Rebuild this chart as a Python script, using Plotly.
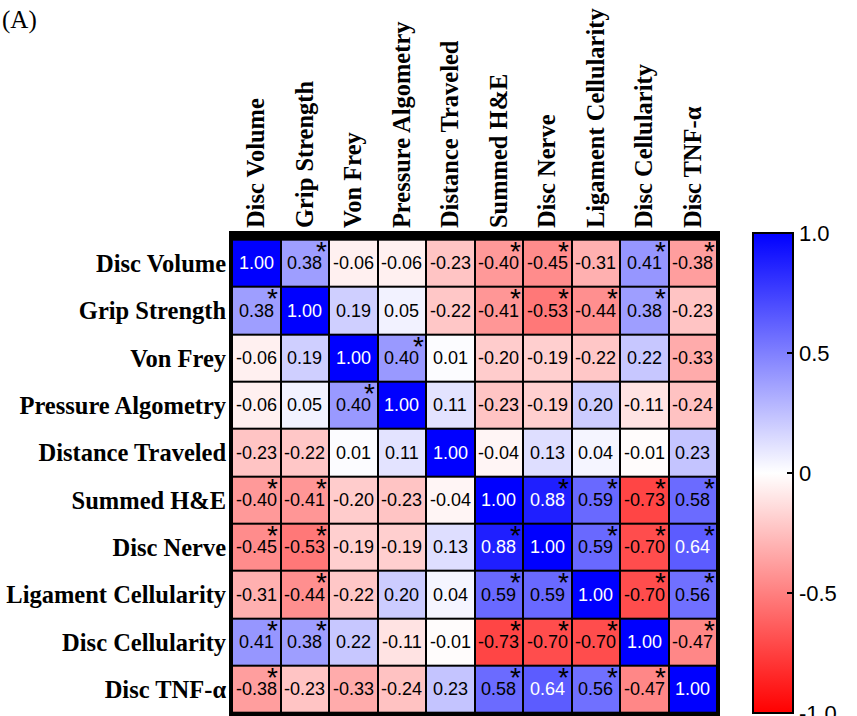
import plotly.graph_objects as go

# Correlation matrix (Pearson r) between outcome measures
labels = [
    "Disc Volume", "Grip Strength", "Von Frey", "Pressure Algometry",
    "Distance Traveled", "Summed H&E", "Disc Nerve", "Ligament Cellularity",
    "Disc Cellularity", "Disc TNF-α",
]

r_values = [
    [1.00, 0.38, -0.06, -0.06, -0.23, -0.40, -0.45, -0.31, 0.41, -0.38],
    [0.38, 1.00, 0.19, 0.05, -0.22, -0.41, -0.53, -0.44, 0.38, -0.23],
    [-0.06, 0.19, 1.00, 0.40, 0.01, -0.20, -0.19, -0.22, 0.22, -0.33],
    [-0.06, 0.05, 0.40, 1.00, 0.11, -0.23, -0.19, 0.20, -0.11, -0.24],
    [-0.23, -0.22, 0.01, 0.11, 1.00, -0.04, 0.13, 0.04, -0.01, 0.23],
    [-0.40, -0.41, -0.20, -0.23, -0.04, 1.00, 0.88, 0.59, -0.73, 0.58],
    [-0.45, -0.53, -0.19, -0.19, 0.13, 0.88, 1.00, 0.59, -0.70, 0.64],
    [-0.31, -0.44, -0.22, 0.20, 0.04, 0.59, 0.59, 1.00, -0.70, 0.56],
    [0.41, 0.38, 0.22, -0.11, -0.01, -0.73, -0.70, -0.70, 1.00, -0.47],
    [-0.38, -0.23, -0.33, -0.24, 0.23, 0.58, 0.64, 0.56, -0.47, 1.00],
]

# 1 = statistically significant correlation (marked with *)
significant = [
    [0, 1, 0, 0, 0, 1, 1, 0, 1, 1],
    [1, 0, 0, 0, 0, 1, 1, 1, 1, 0],
    [0, 0, 0, 1, 0, 0, 0, 0, 0, 0],
    [0, 0, 1, 0, 0, 0, 0, 0, 0, 0],
    [0, 0, 0, 0, 0, 0, 0, 0, 0, 0],
    [1, 1, 0, 0, 0, 0, 1, 1, 1, 1],
    [1, 1, 0, 0, 0, 1, 0, 1, 1, 1],
    [0, 1, 0, 0, 0, 1, 1, 0, 1, 1],
    [1, 1, 0, 0, 0, 1, 1, 1, 0, 1],
    [1, 0, 0, 0, 0, 1, 1, 1, 1, 0],
]

cb_tickvals = [-1.0, -0.5, 0.0, 0.5, 1.0]
cb_ticktext = ["-1.0", "-0.5", "0", "0.5", "1.0"]

W, H = 857, 716
L, R, T, B = 232, 140, 234, 0
plot_w = W - L - R
plot_h = H - T - B
cb_len = 480
cb_left_px = 753
cb_x = (cb_left_px - L) / plot_w

serif = "Liberation Serif, Times New Roman, serif"
sans = "Liberation Sans, Arial, sans-serif"

fig = go.Figure()
fig.add_trace(go.Heatmap(
    z=r_values,
    x=labels,
    y=labels,
    zmin=-1, zmax=1,
    colorscale=[[0.0, "rgb(255,0,0)"], [0.5, "rgb(255,255,255)"], [1.0, "rgb(0,0,255)"]],
    xgap=2, ygap=2,
    hoverinfo="skip",
    colorbar=dict(
        lenmode="pixels", len=cb_len,
        y=0, yanchor="bottom", yref="paper", ypad=0,
        x=cb_x, xanchor="left", xpad=0,
        thickness=40,
        outlinewidth=2, outlinecolor="black",
        tickmode="array", tickvals=cb_tickvals, ticktext=cb_ticktext,
        ticks="inside", ticklen=7, tickwidth=2, tickcolor="black",
        ticklabeloverflow="allow",
        tickfont=dict(family=sans, size=22, color="black"),
    ),
))

annotations = []
n = len(labels)
for i in range(n):
    for j in range(n):
        v = r_values[i][j]
        annotations.append(dict(
            x=j, y=i, xref="x", yref="y",
            text=f"{v:.2f}", showarrow=False,
            font=dict(family=sans, size=18, color="white" if v > 0.6 else "black"),
        ))
        if significant[i][j]:
            annotations.append(dict(
                x=j + 0.34, y=i - 0.25, xref="x", yref="y",
                text="*", showarrow=False,
                font=dict(family=sans, size=28, color="black"),
            ))

annotations.append(dict(
    x=0, y=1, xref="paper", yref="paper",
    xshift=-L, yshift=T - 4,
    xanchor="left", yanchor="top",
    text="(A)", showarrow=False,
    font=dict(family=serif, size=25, color="black"),
))

# tick marks on the left edge of the colour bar
shapes = []
tick_len = 7 / plot_w
for v in cb_tickvals[1:-1]:
    yp = (v + 1) / 2 * cb_len / plot_h
    shapes.append(dict(
        type="line", xref="paper", yref="paper",
        x0=cb_x, x1=cb_x + tick_len, y0=yp, y1=yp,
        line=dict(color="black", width=2),
    ))

fig.update_layout(
    width=W, height=H,
    margin=dict(l=L, r=R, t=T, b=B, pad=0),
    paper_bgcolor="white",
    plot_bgcolor="black",
    annotations=annotations,
    shapes=shapes,
    xaxis=dict(
        side="top", tickangle=-90, showgrid=False, zeroline=False,
        ticks="", ticklabelstandoff=-2,
        tickfont=dict(family=serif, size=24.5, color="black", weight="bold"),
        showline=True, mirror=True, linecolor="black", linewidth=3,
    ),
    yaxis=dict(
        autorange="reversed", showgrid=False, zeroline=False,
        ticks="", ticklabelstandoff=-2,
        tickfont=dict(family=serif, size=24.5, color="black", weight="bold"),
        showline=True, mirror=True, linecolor="black", linewidth=3,
    ),
)

fig.write_html("out.html")
